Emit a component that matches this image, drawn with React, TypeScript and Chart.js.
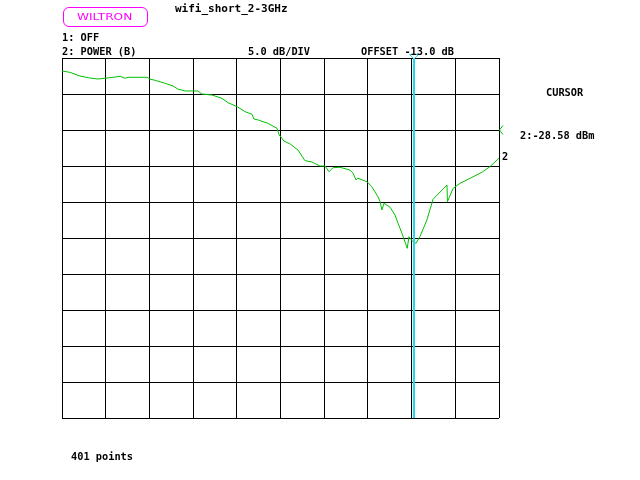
import React, { useEffect, useRef } from "react";
import { Chart, registerables } from "chart.js";

Chart.register(...registerables);

// Frequency (MHz) and measured power (dBm), trace 2
const freqMHz = [
  2000, 2018, 2041, 2060, 2082, 2098, 2117, 2133, 2144, 2151, 2195, 2201, 2213, 2236, 2254, 2265,
  2282, 2311, 2320, 2343, 2366, 2380, 2401, 2419, 2435, 2439, 2449, 2471, 2492, 2497, 2508, 2522,
  2540, 2556, 2572, 2590, 2602, 2611, 2620, 2636, 2659, 2666, 2673, 2677, 2698, 2709, 2723, 2728,
  2732, 2737, 2751, 2762, 2769, 2778, 2790, 2794, 2803, 2810, 2819, 2835, 2849, 2881, 2882, 2895,
  2911, 2934, 2963, 2979, 3000,
];
const powerDbm = [
  -4.81, -4.99, -5.5, -5.74, -5.92, -5.82, -5.68, -5.54, -5.82, -5.68, -5.68, -5.92, -6.1, -6.51, -6.89, -7.31,
  -7.58, -7.58, -8.0, -8.14, -8.6, -9.21, -9.76, -10.46, -10.82, -11.47, -11.61, -12.07, -12.76, -13.69, -14.53, -14.94,
  -15.78, -17.26, -17.44, -18.0, -18.0, -18.79, -18.24, -18.18, -18.56, -19.01, -19.94, -19.71, -20.18, -20.88, -22.26, -22.96,
  -24.11, -23.18, -23.74, -24.81, -25.96, -27.35, -29.43, -27.82, -28.51, -28.74, -27.82, -25.5, -22.63, -20.64, -22.96, -21.1,
  -20.4, -19.71, -18.79, -18.1, -16.93,
];
const xTicks = [2000, 2100, 2200, 2300, 2400, 2500, 2600, 2700, 2800, 2900, 3000];
const yTicks = [-53, -48, -43, -38, -33, -28, -23, -18, -13, -8, -3];
const cursorFreq = 2806;
const offsetDb = -13;

const titleText = "wifi_short_2-3GHz";
const logoText = "WILTRON";
const ch1Text = "1: OFF";
const ch2Text = "2: POWER (B)";
const scaleText = "5.0 dB/DIV";
const offsetText = "OFFSET -13.0 dB";
const cursorTitle = "CURSOR";
const cursorReading = "2:-28.58 dBm";
const traceLabel = "2";
const pointsText = "401 points";

const GREEN = "#00c000";
const CYAN = "#22d8f0";
const MAGENTA = "#ff00ff";
const MONO = '"DejaVu Sans Mono", monospace';

const markersPlugin = {
  id: "markers",
  afterDatasetsDraw(chart: any) {
    const { ctx, chartArea, scales } = chart;
    const x = scales.x;
    const y = scales.y;
    const cx = Math.round(x.getPixelForValue(cursorFreq));
    ctx.save();
    ctx.strokeStyle = CYAN;
    ctx.lineWidth = 2;
    ctx.beginPath();
    ctx.moveTo(cx, chartArea.top);
    ctx.lineTo(cx, chartArea.bottom);
    ctx.stroke();
    ctx.lineWidth = 1;
    ctx.beginPath();
    ctx.moveTo(cx - 4.5, chartArea.top - 3.5);
    ctx.lineTo(cx + 4.5, chartArea.top - 3.5);
    ctx.lineTo(cx, chartArea.top + 1);
    ctx.closePath();
    ctx.stroke();
    const ry = y.getPixelForValue(offsetDb);
    ctx.strokeStyle = GREEN;
    ctx.beginPath();
    ctx.moveTo(chartArea.right + 4, ry - 4.5);
    ctx.lineTo(chartArea.right + 0.5, ry);
    ctx.lineTo(chartArea.right + 4, ry + 4.5);
    ctx.stroke();
    ctx.restore();
  },
};

function Label(props: { text: string; x: number; cy: number; size?: number; color?: string }) {
  const size = props.size ?? 10.3;
  return (
    <div
      style={{
        position: "absolute",
        left: props.x,
        top: props.cy - 6,
        font: `bold ${size}px ${MONO}`,
        lineHeight: "12px",
        whiteSpace: "pre",
        color: props.color ?? "#000",
      }}
    >
      {props.text}
    </div>
  );
}

export default function App() {
  const canvasRef = useRef<HTMLCanvasElement | null>(null);

  useEffect(() => {
    if (!canvasRef.current) return;
    const gridOpts = { color: "#000", lineWidth: 1, drawTicks: false };
    const chart = new Chart(canvasRef.current, {
      type: "line",
      data: {
        datasets: [
          {
            data: freqMHz.map((f, i) => ({ x: f, y: powerDbm[i] })),
            borderColor: GREEN,
            borderWidth: 1,
            pointRadius: 0,
            tension: 0,
          },
        ],
      },
      options: {
        animation: false,
        responsive: false,
        devicePixelRatio: 1,
        layout: { padding: { left: 62, top: 58, right: 141, bottom: 62 } },
        plugins: { legend: { display: false }, tooltip: { enabled: false } },
        scales: {
          x: {
            type: "linear",
            min: 2000,
            max: 3000,
            grid: gridOpts,
            border: { display: false },
            ticks: { display: false },
            afterBuildTicks: (s: any) => {
              s.ticks = xTicks.map((v) => ({ value: v }));
            },
          },
          y: {
            type: "linear",
            min: -53,
            max: -3,
            grid: gridOpts,
            border: { display: false },
            ticks: { display: false },
            afterBuildTicks: (s: any) => {
              s.ticks = yTicks.map((v) => ({ value: v }));
            },
          },
        },
      } as any,
      plugins: [markersPlugin],
    });
    return () => chart.destroy();
  }, []);

  return (
    <div style={{ position: "fixed", left: 0, top: 0, width: 640, height: 480, background: "#fff" }}>
      <canvas ref={canvasRef} width={640} height={480} style={{ position: "absolute", left: 0, top: 0 }} />
      <div
        style={{
          position: "absolute",
          left: 63,
          top: 7,
          width: 83,
          height: 18,
          border: `1px solid ${MAGENTA}`,
          borderRadius: 6,
        }}
      />
      <div
        style={{
          position: "absolute",
          left: 77,
          top: 12,
          font: `8px "DejaVu Sans", sans-serif`,
          lineHeight: "12px",
          color: MAGENTA,
          whiteSpace: "pre",
          transform: "scaleX(1.52)",
          transformOrigin: "0 0",
        }}
      >
        {logoText}
      </div>
      <Label text={titleText} x={175} cy={8.5} size={11} />
      <Label text={ch1Text} x={62} cy={37} />
      <Label text={ch2Text} x={62} cy={50.5} />
      <Label text={scaleText} x={248} cy={50.5} />
      <Label text={offsetText} x={361} cy={50.5} />
      <Label text={cursorTitle} x={546} cy={91.5} />
      <Label text={cursorReading} x={520} cy={134.5} />
      <Label text={traceLabel} x={502} cy={155.5} />
      <Label text={pointsText} x={71} cy={455.5} />
    </div>
  );
}
